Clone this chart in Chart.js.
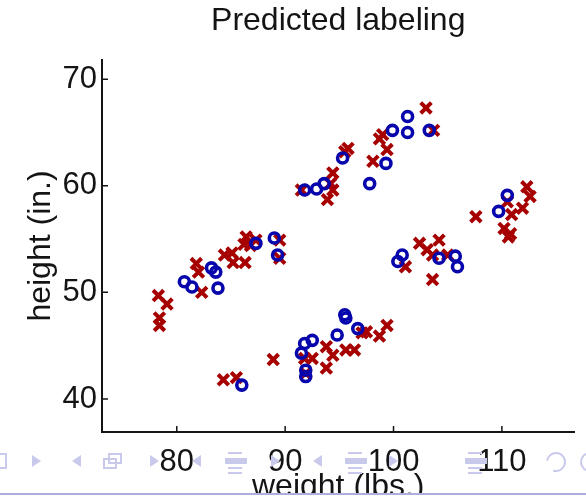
<!DOCTYPE html>
<html>
<head>
<meta charset="utf-8">
<script src="https://cdn.jsdelivr.net/npm/chart.js@4.4.1/dist/chart.umd.min.js"></script>
<style>
  html, body { margin: 0; padding: 0; background: #fff; }
  #wrap { width: 586px; height: 497px; }
</style>
</head>
<body>
<div id="wrap"><canvas id="chart"></canvas></div>
<script>
// predicted class 1 (blue circles)
const circleWeight = [80.7, 81.4, 83.2, 83.6, 83.8, 87.3, 89.0, 89.3,
    91.8, 92.9, 93.6, 95.3, 97.8, 99.3, 99.9, 101.3, 101.3, 103.3,
    110.5, 109.7,
    100.4, 100.8, 104.2, 105.7, 105.9,
    86.0, 95.5, 95.6, 94.8, 96.7, 91.8, 92.5, 91.5, 91.9, 91.9];
const circleHeight = [51.0, 50.5, 52.3, 51.9, 50.4, 54.6, 55.1, 53.5,
    59.6, 59.7, 60.2, 62.6, 60.2, 62.1, 65.2, 66.5, 65.0, 65.2,
    59.1, 57.6,
    52.9, 53.5, 53.2, 53.4, 52.4,
    41.3, 47.9, 47.6, 46.0, 46.6, 45.2, 45.5, 44.3, 42.7, 42.1];

// predicted class 2 (red crosses)
const crossWeight = [78.3, 79.1, 78.4, 78.4, 82.3, 81.8, 82.0, 84.4, 85.1, 85.2, 86.3, 86.4, 86.2, 87.3, 86.8, 89.5, 89.5,
    91.5, 94.4, 94.2, 94.4, 93.9, 95.5, 95.8, 98.1, 99.4, 99.0, 98.7, 103.0, 103.7,
    107.6, 110.5, 110.9, 111.9, 112.3, 112.6, 110.2, 110.8, 110.6,
    102.4, 104.2, 103.1, 103.6, 105.0, 101.1, 103.6,
    84.3, 85.5, 88.9, 91.8, 92.5, 93.8, 94.4, 93.8, 95.6, 96.4, 97.1, 97.5, 98.7, 99.4, 91.9];
const crossHeight = [49.7, 48.9, 47.6, 46.9, 50.0, 52.7, 51.9, 53.5, 53.7, 52.8, 52.8, 55.2, 54.5, 54.9, 54.4, 54.9, 53.2,
    59.6, 61.2, 60.2, 59.6, 58.7, 63.2, 63.5, 62.3, 63.4, 64.8, 64.4, 67.3, 65.2,
    57.1, 58.5, 57.3, 57.9, 59.9, 59.0, 56.0, 55.5, 55.2,
    54.6, 54.9, 54.0, 53.5, 53.5, 52.4, 51.2,
    41.8, 42.0, 43.7, 43.8, 43.8, 44.9, 44.1, 42.9, 44.6, 44.6, 46.2, 46.3, 45.9, 46.9, 42.4];

const xTicks = [80, 90, 100, 110];
const yTicks = [40, 50, 60, 70];

const BLUE = '#0606ac';
const RED  = '#a60000';
const INK  = '#141414';
const NAV  = '#c9c9ec';

const inwardTicks = {
    id: 'inwardTicks',
    afterDatasetsDraw(chart) {
        const { ctx, chartArea: a, scales: { x, y } } = chart;
        ctx.save();
        ctx.strokeStyle = INK;
        ctx.lineWidth = 1.5;
        ctx.beginPath();
        x.ticks.forEach(t => {
            const px = x.getPixelForValue(t.value);
            ctx.moveTo(px, a.bottom);
            ctx.lineTo(px, a.bottom - 6);
        });
        y.ticks.forEach(t => {
            const py = y.getPixelForValue(t.value);
            ctx.moveTo(a.left, py);
            ctx.lineTo(a.left + 6, py);
        });
        ctx.stroke();
        ctx.restore();
    }
};

// beamer navigation symbols behind the x tick labels
function tri(ctx, cx, cy, dir) {
    ctx.beginPath();
    ctx.moveTo(cx - 4 * dir, cy - 6);
    ctx.lineTo(cx + 5 * dir, cy);
    ctx.lineTo(cx - 4 * dir, cy + 6);
    ctx.closePath();
    ctx.fill();
}
function listIcon(ctx, cx, cy) {
    ctx.fillRect(cx - 8, cy - 9, 14, 2);
    ctx.fillRect(cx - 11, cy - 3, 22, 6);
    ctx.fillRect(cx - 8, cy + 6, 14, 2);
    ctx.fillRect(cx - 8, cy + 11, 14, 2);
}
const navBar = {
    id: 'navBar',
    beforeDatasetsDraw(chart) {
        const ctx = chart.ctx;
        const cy = 461;
        ctx.save();
        ctx.fillStyle = NAV;
        ctx.strokeStyle = NAV;
        ctx.lineWidth = 2;
        ctx.strokeRect(-6, cy - 7, 12, 14);
        [36, 154, 275, 393].forEach(cx => tri(ctx, cx, cy, 1));
        [77, 197, 318].forEach(cx => tri(ctx, cx, cy, -1));
        ctx.strokeRect(104, cy - 2, 12, 9);
        ctx.strokeRect(109, cy - 7, 12, 9);
        [236, 356, 476].forEach(cx => listIcon(ctx, cx, cy));
        ctx.beginPath();
        ctx.arc(556, cy + 1, 9, Math.PI * 1.05, Math.PI * 2.6);
        ctx.stroke();
        ctx.beginPath();
        ctx.arc(590, cy + 1, 9, 0, Math.PI * 2);
        ctx.stroke();
        ctx.restore();
    },
    afterDraw(chart) {
        const ctx = chart.ctx;
        ctx.save();
        ctx.fillStyle = '#ffffff';
        ctx.fillRect(0, 495, 586, 2);
        ctx.fillStyle = '#aeaede';
        ctx.fillRect(0, 493, 586, 2);
        ctx.restore();
    }
};

const font = size => ({ family: 'Liberation Sans, Arial, sans-serif', size: size });

new Chart(document.getElementById('chart'), {
    type: 'scatter',
    data: {
        datasets: [
            {
                label: 'class 1',
                data: circleWeight.map((w, i) => ({ x: w, y: circleHeight[i] })),
                pointStyle: 'circle',
                pointRadius: 5,
                borderWidth: 3.6,
                borderColor: BLUE,
                backgroundColor: 'rgba(0,0,0,0)'
            },
            {
                label: 'class 2',
                data: crossWeight.map((w, i) => ({ x: w, y: crossHeight[i] })),
                pointStyle: 'crossRot',
                pointRadius: 7.5,
                borderWidth: 4,
                borderColor: RED,
                backgroundColor: RED
            }
        ]
    },
    options: {
        responsive: true,
        maintainAspectRatio: false,
        animation: false,
        layout: { padding: { left: 0, right: 10, top: 0, bottom: 0 } },
        plugins: {
            legend: { display: false },
            tooltip: { enabled: false },
            title: {
                display: true,
                text: 'Predicted labeling',
                color: INK,
                fullSize: false,
                font: { ...font(32), weight: 'normal', lineHeight: 1.2 },
                padding: { top: 2, bottom: 19.6 }
            }
        },
        scales: {
            x: {
                type: 'linear',
                min: 73.1,
                max: 116.7,
                afterBuildTicks: s => { s.ticks = xTicks.map(v => ({ value: v })); },
                afterFit: s => { s.height = 65; },
                grid: { display: false, drawTicks: false },
                border: { display: true, color: INK, width: 2 },
                ticks: { color: INK, font: font(31), padding: 12, maxRotation: 0 },
                title: {
                    display: true,
                    text: 'weight (lbs.)',
                    color: INK,
                    font: { ...font(32), lineHeight: 1 },
                    padding: { top: 0, bottom: -6 }
                }
            },
            y: {
                type: 'linear',
                min: 36.9,
                max: 71.8,
                afterBuildTicks: s => { s.ticks = yTicks.map(v => ({ value: v })); },
                afterFit: s => { s.width = 102; },
                grid: { display: false, drawTicks: false },
                border: { display: true, color: INK, width: 2 },
                ticks: { color: INK, font: font(31), padding: 5 },
                title: {
                    display: true,
                    text: 'height (in.)',
                    color: INK,
                    font: { ...font(32), lineHeight: 1 },
                    padding: { top: 25, bottom: 0 }
                }
            }
        }
    },
    plugins: [navBar, inwardTicks]
});
</script>
</body>
</html>
